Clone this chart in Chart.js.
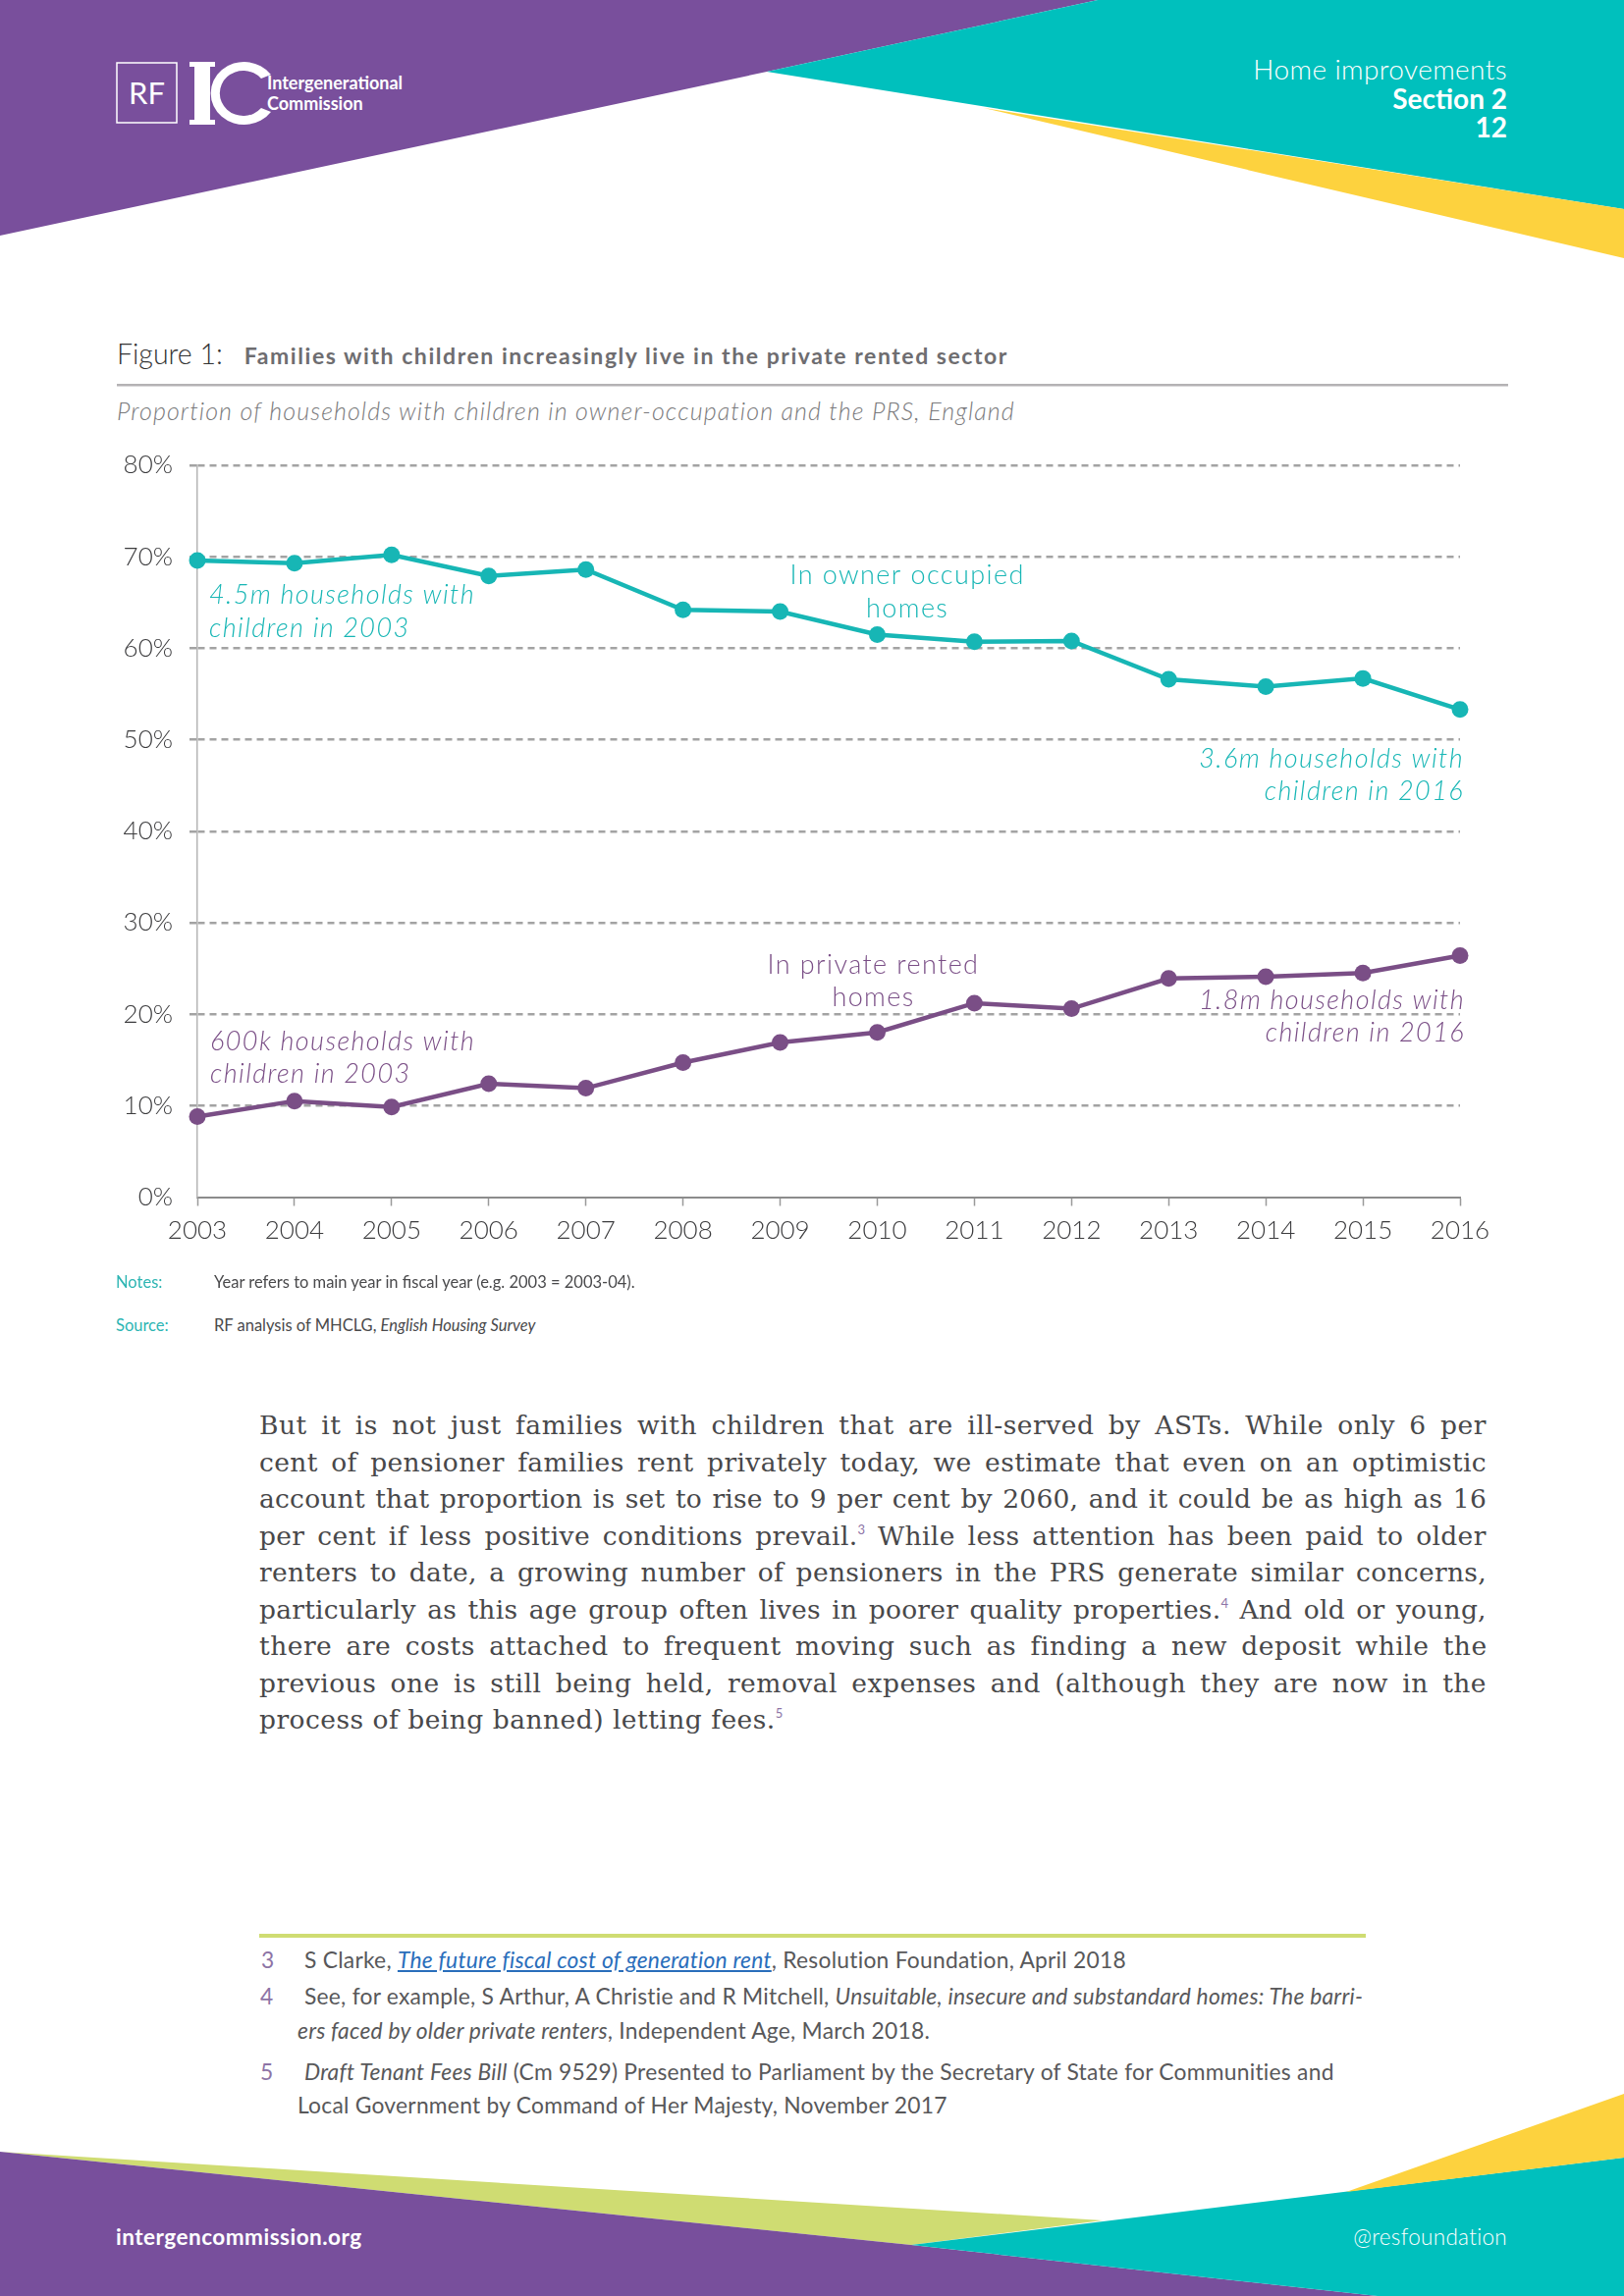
<!DOCTYPE html>
<html>
<head>
<meta charset="utf-8">
<script src="https://cdn.jsdelivr.net/npm/chart.js@4"></script>
<style>
  html, body { margin:0; padding:0; }
  body { width:1654px; height:2339px; position:relative; overflow:hidden; background:#fff; font-family: Lato, "Open Sans", sans-serif; }
  .abs { position:absolute; white-space:nowrap; line-height:1.2; }
  #chartWrap { position:absolute; left:0; top:440px; width:1654px; height:860px; }
  .bodyline { position:absolute; left:264px; width:1250px; height:37.5px; line-height:37.5px;
    font-family:"DejaVu Serif", serif; font-size:26.5px; color:#48484a; white-space:nowrap; }
  .bodyline sup { font-family:Lato, sans-serif; font-size:13px; color:#8d74a6; vertical-align:baseline; position:relative; top:-11px; letter-spacing:0; }
  .fn { position:absolute; font-size:22.8px; letter-spacing:0.25px; color:#58585a; white-space:nowrap; line-height:1.2; }
  .fnn { position:absolute; font-size:22.8px; color:#8d74a6; line-height:1.2; }
</style>
</head>
<body>
<svg width="1654" height="2339" style="position:absolute;left:0;top:0">
  <polygon points="0,0 1118,0 781,73 0,240" fill="#794f9c"/>
  <polygon points="1118,0 1654,0 1654,213 781,73" fill="#00c0bd"/>
  <polygon points="1002,110 1654,213 1654,263" fill="#fdd23e"/>
  <rect x="119" y="64" width="61" height="61" fill="none" stroke="#fff" stroke-width="1.5"/>
  <text x="149.5" y="106" fill="#fff" font-family="Lato" font-size="31" text-anchor="middle">RF</text>
  <rect x="198" y="63" width="16" height="64" fill="#fff"/>
  <rect x="193" y="63" width="26" height="5" fill="#fff"/>
  <rect x="193" y="122" width="26" height="5" fill="#fff"/>
  <path d="M276,76 A34,32 0 1 0 276,114 L266,110 A24,23 0 1 1 266,80 Z" fill="#fff"/>
  <text x="272" y="91" fill="#fff" font-family="Lato" font-weight="700" font-size="18">Intergenerational</text>
  <text x="272" y="112" fill="#fff" font-family="Lato" font-weight="700" font-size="18">Commission</text>
  <polygon points="0,2192 1123,2262 928,2287" fill="#cfdc72"/>
  <polygon points="0,2192 928,2287 1403,2339 0,2339" fill="#784f9c"/>
  <polygon points="928,2287 1654,2198 1654,2339 1403,2339" fill="#00c0bd"/>
  <polygon points="1371,2233 1654,2133 1654,2198" fill="#fdd23e"/>
  <rect x="119" y="391" width="1417" height="2.5" fill="#b4b2b4"/>
  <rect x="264" y="1970" width="1127" height="4" fill="#cfdc72"/>
</svg>

<div class="abs" style="right:119px; top:54px; font-size:28px; letter-spacing:0.4px; font-weight:300; color:#fff; text-align:right;">Home improvements</div>
<div class="abs" style="right:119px; top:84px; font-size:28px; font-weight:700; color:#fff; text-align:right;">Section 2</div>
<div class="abs" style="right:119px; top:113px; font-size:28px; font-weight:700; color:#fff; text-align:right;">12</div>

<div class="abs" style="left:119px; top:343px; color:#333;"><span style="font-size:28.5px; font-weight:300;">Figure 1:</span><span style="display:inline-block;width:22px"></span><span style="font-size:23px; letter-spacing:1.55px; font-weight:700; color:#6e6d70;">Families with children increasingly live in the private rented sector</span></div>
<div class="abs" style="left:119px; top:403px; font-size:25px; letter-spacing:1.1px; font-style:italic; font-weight:300; color:#7a7a7c;">Proportion of households with children in owner-occupation and the PRS, England</div>

<div id="chartWrap"><canvas id="c" width="1654" height="860"></canvas></div>

<div class="abs" style="left:118px; top:1297px; font-size:16.5px; color:#2db5b3;">Notes:</div>
<div class="abs" style="left:218px; top:1297px; font-size:16.5px; color:#4a4a4c;">Year refers to main year in fiscal year (e.g. 2003 = 2003-04).</div>
<div class="abs" style="left:118px; top:1341px; font-size:16.5px; color:#2db5b3;">Source:</div>
<div class="abs" style="left:218px; top:1341px; font-size:16.5px; color:#4a4a4c;">RF analysis of MHCLG, <i>English Housing Survey</i></div>

<div class="bodyline" style="top:1433px;"><span>But it is not just families with children that are ill-served by ASTs. While only 6 per</span></div>
<div class="bodyline" style="top:1470.5px;"><span>cent of pensioner families rent privately today, we estimate that even on an optimistic</span></div>
<div class="bodyline" style="top:1508px;"><span>account that proportion is set to rise to 9 per cent by 2060, and it could be as high as 16</span></div>
<div class="bodyline" style="top:1545.5px;"><span>per cent if less positive conditions prevail.<sup>3</sup> While less attention has been paid to older</span></div>
<div class="bodyline" style="top:1583px;"><span>renters to date, a growing number of pensioners in the PRS generate similar concerns,</span></div>
<div class="bodyline" style="top:1620.5px;"><span>particularly as this age group often lives in poorer quality properties.<sup>4</sup> And old or young,</span></div>
<div class="bodyline" style="top:1658px;"><span>there are costs attached to frequent moving such as finding a new deposit while the</span></div>
<div class="bodyline" style="top:1695.5px;"><span>previous one is still being held, removal expenses and (although they are now in the</span></div>
<div class="bodyline" data-last="1" style="top:1733px;"><span>process of being banned) letting fees.<sup>5</sup></span></div>

<div class="fnn" style="left:266px; top:1983px;">3</div>
<div class="fn" style="left:310px; top:1983px;">S Clarke, <i style="color:#2a6ebb; text-decoration:underline;">The future fiscal cost of generation rent</i>, Resolution Foundation, April 2018</div>
<div class="fnn" style="left:265px; top:2020px;">4</div>
<div class="fn" style="left:310px; top:2020px;">See, for example, S Arthur, A Christie and R Mitchell, <i>Unsuitable, insecure and substandard homes: The barri-</i></div>
<div class="fn" style="left:303px; top:2055px;"><i>ers faced by older private renters</i>, Independent Age, March 2018.</div>
<div class="fnn" style="left:265px; top:2097px;">5</div>
<div class="fn" style="left:310px; top:2097px;"><i>Draft Tenant Fees Bill</i> (Cm 9529) Presented to Parliament by the Secretary of State for Communities and</div>
<div class="fn" style="left:303px; top:2131px;">Local Government by Command of Her Majesty, November 2017</div>

<div class="abs" style="left:118px; top:2265px; font-size:22.5px; letter-spacing:0.5px; font-weight:700; color:#fff;">intergencommission.org</div>
<div class="abs" style="right:119px; top:2265px; font-size:22.5px; letter-spacing:0.3px; font-weight:300; color:#fff;">@resfoundation</div>

<script>
// ---- data ----
const years = ['2003','2004','2005','2006','2007','2008','2009','2010','2011','2012','2013','2014','2015','2016'];
const ownerOccupied = [69.6, 69.3, 70.2, 67.9, 68.6, 64.2, 64.0, 61.5, 60.7, 60.8, 56.6, 55.8, 56.7, 53.3];
const privateRented = [8.8, 10.5, 9.85, 12.4, 11.9, 14.7, 16.9, 18.0, 21.2, 20.6, 23.9, 24.1, 24.5, 26.4];
const yTicks = [0, 10, 20, 30, 40, 50, 60, 70, 80];

const TEAL = '#17b6b5';
const PURPLE = '#7a4e86';

// justify body lines to the full measure
(function fitBody() {
  const target = 1250;
  let lastLs = 0;
  document.querySelectorAll('.bodyline').forEach(el => {
    const span = el.firstElementChild;
    if (el.dataset.last) { span.style.letterSpacing = lastLs + 'px'; return; }
    const w = span.getBoundingClientRect().width;
    const text = span.textContent;
    const spaces = (text.match(/ /g) || []).length;
    const extra = target - w;
    const ls = extra * 0.35 / text.length;
    const ws = extra * 0.65 / Math.max(spaces, 1);
    span.style.letterSpacing = ls + 'px';
    span.style.wordSpacing = ws + 'px';
    lastLs = ls;
  });
})();

const annotations = [
  { lines: ['4.5m households with', 'children in 2003'], xi: 0, dx: 12, v: 65.8, align: 'left', color: TEAL, italic: true },
  { lines: ['In owner occupied', 'homes'], xi: 7.31, dx: 0, v: 67.9, align: 'center', color: TEAL, italic: false },
  { lines: ['3.6m households with', 'children in 2016'], xi: 13, dx: 4, v: 47.9, align: 'right', color: TEAL, italic: true },
  { lines: ['In private rented', 'homes'], xi: 6.96, dx: 0, v: 25.4, align: 'center', color: PURPLE, italic: false },
  { lines: ['1.8m households with', 'children in 2016'], xi: 13, dx: 5, v: 21.5, align: 'right', color: PURPLE, italic: true },
  { lines: ['600k households with', 'children in 2003'], xi: 0, dx: 13, v: 17.0, align: 'left', color: PURPLE, italic: true }
];

const annotationPlugin = {
  id: 'annot',
  afterDatasetsDraw(chart) {
    const ctx = chart.ctx;
    const xs = chart.scales.x, ys = chart.scales.y;
    ctx.save();
    annotations.forEach(a => {
      ctx.font = (a.italic ? 'italic ' : '') + '300 27px Lato, sans-serif';
      try { ctx.letterSpacing = '1.4px'; } catch (e) {}
      ctx.fillStyle = a.color;
      ctx.textAlign = a.align;
      ctx.textBaseline = 'middle';
      const x = xs.getPixelForValue(a.xi) + a.dx;
      const y0 = ys.getPixelForValue(a.v);
      a.lines.forEach((t, i) => ctx.fillText(t, x, y0 + i * 33.5));
    });
    ctx.restore();
  }
};

new Chart(document.getElementById('c'), {
  type: 'line',
  data: {
    labels: years,
    datasets: [
      { label: 'In owner occupied homes', data: ownerOccupied, borderColor: TEAL, backgroundColor: TEAL,
        pointBackgroundColor: TEAL, borderWidth: 4.5, pointRadius: 8.5, pointBorderWidth: 0, tension: 0, clip: false },
      { label: 'In private rented homes', data: privateRented, borderColor: PURPLE, backgroundColor: PURPLE,
        pointBackgroundColor: PURPLE, borderWidth: 4.5, pointRadius: 8.5, pointBorderWidth: 0, tension: 0, clip: false }
    ]
  },
  options: {
    responsive: false,
    animation: false,
    devicePixelRatio: 1,
    layout: { padding: { left: 0, right: 167, top: 34, bottom: 20.5 } },
    plugins: { legend: { display: false }, tooltip: { enabled: false } },
    scales: {
      x: {
        type: 'category',
        offset: false,
        afterFit(scale) { scale.height = 60; },
        grid: { display: true, drawOnChartArea: false, drawTicks: true, tickLength: 9, tickColor: '#9a9a9a', tickWidth: 1.5 },
        border: { display: true, color: '#8c8c8c', width: 2 },
        ticks: { color: '#3c3c3e', padding: 10, maxRotation: 0, autoSkip: false, font: { family: 'Lato', size: 26, weight: 300 } }
      },
      y: {
        min: 0, max: 80,
        afterFit(scale) { scale.width = 201; },
        afterBuildTicks(scale) { scale.ticks = yTicks.map(v => ({ value: v })); },
        grid: {
          color: (c) => (c.tick && c.tick.value === 0) ? 'rgba(0,0,0,0)' : '#a3a3a3',
          lineWidth: 2.5, tickLength: 8, borderDash: [7, 5]
        },
        border: { display: true, color: '#b5b5b5', width: 1.5, dash: [7, 5] },
        ticks: { color: '#3c3c3e', padding: 17, font: { family: 'Lato', size: 26, weight: 300 },
          callback: (v) => v + '%' }
      }
    }
  },
  plugins: [annotationPlugin]
});
</script>
</body>
</html>
